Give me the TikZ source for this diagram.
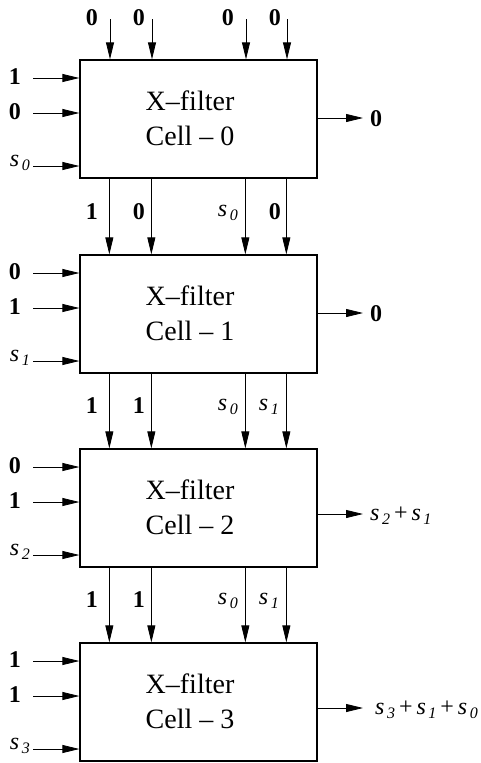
\documentclass[tikz,border=0pt]{standalone}
\usepackage{fontspec}
\setmainfont{Liberation Serif}
\usetikzlibrary{arrows.meta}
\newcommand\sv[1]{\textit{s}\kern2.5pt\raisebox{-0.45ex}{\fontsize{16}{16}\selectfont\itshape #1}}
\tikzset{
  cell/.style={draw, line width=1.3pt, minimum width=237pt, minimum height=118pt, inner sep=0pt},
  ctext/.style={font=\fontsize{28}{35}\selectfont, align=center, inner sep=0pt},
  dig/.style={font=\fontsize{24}{26}\selectfont\bfseries, inner sep=0pt},
  sym/.style={font=\fontsize{24}{26}\selectfont, inner sep=0pt},
  arr/.style={-{Triangle[length=17pt,width=8pt]}, line width=0.8pt}
}
\begin{document}
\begin{tikzpicture}[x=1pt,y=-1pt]
\useasboundingbox (0,0) rectangle (481,763);
% cells
\foreach \i/\t in {0/60,1/255,2/449,3/643} {
  \node[cell] (c\i) at (198.5,\t+59) {};
  \node[ctext] (t\i) at (190,\t+58) {X--filter\\Cell -- \i};
  % left input arrows
  \coordinate (l\i a) at (33,\t+18);
  \coordinate (l\i b) at (33,\t+53);
  \coordinate (l\i c) at (33,\t+106);
  \draw[arr] (l\i a) -- (c\i.west |- l\i a);
  \draw[arr] (l\i b) -- (c\i.west |- l\i b);
  \draw[arr] (l\i c) -- (c\i.west |- l\i c);
}
% top inputs of cell 0
\foreach \n/\x in {a/110,b/152,c/246,d/287} {
  \coordinate (u\n) at (\x,19);
  \draw[arr] (u\n) -- (u\n |- c0.north);
}
% arrows between cells
\foreach \i/\j in {0/1,1/2,2/3} {
  \foreach \x in {30,72,166,207} {
    \draw[arr] ([xshift=\x pt]c\i.south west) -- ([xshift=\x pt]c\j.north west);
  }
}
% outputs
\coordinate (o0) at (363,118);
\coordinate (o1) at (363,313);
\coordinate (o2) at (363,514);
\coordinate (o3) at (363,708);
\foreach \i in {0,1,2,3} {
  \draw[arr] (c\i.east |- o\i) -- (o\i);
}
% top labels cell 0
\node[dig, anchor=base east] (a0) at (98,25) {0};
\node[dig, anchor=base east] (b0) at (145,25) {0};
\node[dig, anchor=base east] (d0) at (234,25) {0};
\node[dig, anchor=base east] (e0) at (281,25) {0};
% top labels cell 1
\node[dig, anchor=base east] (a1) at (98,219) {1};
\node[dig, anchor=base east] (b1) at (145,219) {0};
\node[sym, anchor=base east] (d1) at (238,216) {\sv{0}};
\node[dig, anchor=base east] (e1) at (281,219) {0};
% top labels cell 2
\node[dig, anchor=base east] (a2) at (98,413) {1};
\node[dig, anchor=base east] (b2) at (145,413) {1};
\node[sym, anchor=base east] (d2) at (238,410) {\sv{0}};
\node[sym, anchor=base east] (e2) at (279,410) {\sv{1}};
% top labels cell 3
\node[dig, anchor=base east] (a3) at (98,607) {1};
\node[dig, anchor=base east] (b3) at (145,607) {1};
\node[sym, anchor=base east] (d3) at (238,604) {\sv{0}};
\node[sym, anchor=base east] (e3) at (279,604) {\sv{1}};
% left labels
\node[dig, anchor=base] (p0) at (15,84) {1};
\node[dig, anchor=base] (q0) at (15,119) {0};
\node[sym, anchor=base east] (r0) at (30,166) {\sv{0}};
\node[dig, anchor=base] (p1) at (15,279) {0};
\node[dig, anchor=base] (q1) at (15,314) {1};
\node[sym, anchor=base east] (r1) at (30,361) {\sv{1}};
\node[dig, anchor=base] (p2) at (15,473) {0};
\node[dig, anchor=base] (q2) at (15,508) {1};
\node[sym, anchor=base east] (r2) at (30,555) {\sv{2}};
\node[dig, anchor=base] (p3) at (15,667) {1};
\node[dig, anchor=base] (q3) at (15,702) {1};
\node[sym, anchor=base east] (r3) at (30,749) {\sv{3}};
% output labels
\node[dig, anchor=base west] (y0) at (370,126) {0};
\node[dig, anchor=base west] (y1) at (370,321) {0};
\node[sym, anchor=base west] (y2) at (370,520) {\sv{2}\,+\,\sv{1}};
\node[sym, anchor=base west] (y3) at (375,714) {\sv{3}\,+\,\sv{1}\,+\,\sv{0}};
\end{tikzpicture}
\end{document}
